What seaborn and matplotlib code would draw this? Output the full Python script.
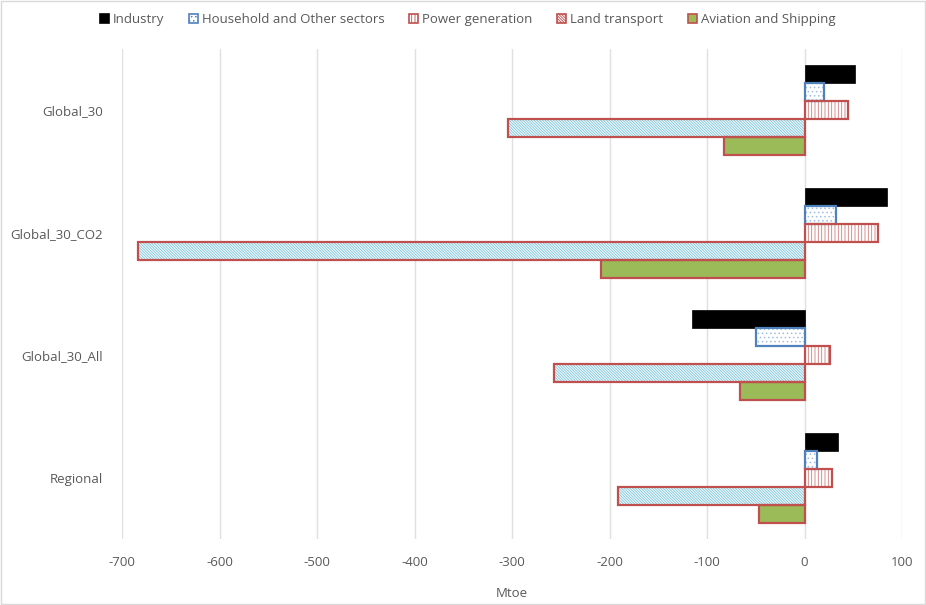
import numpy as np
import pandas as pd
import matplotlib
matplotlib.use("Agg")
import matplotlib.pyplot as plt
from matplotlib.patches import Rectangle, Patch
import seaborn as sns

# ---- data ----
scenarios = ["Global_30", "Global_30_CO2", "Global_30_All", "Regional"]
sectors = ["Industry", "Household and Other sectors", "Power generation",
           "Land transport", "Aviation and Shipping"]
industry = [52, 85, -115, 34]
household = [20, 32, -50, 13]
power = [45, 75, 26, 28]
land = [-304, -684, -257, -191]
aviation = [-83, -209, -66, -47]
x_ticks = [-700, -600, -500, -400, -300, -200, -100, 0, 100]
x_label = "Mtoe"

series = [industry, household, power, land, aviation]
rows = []
for sec, vals in zip(sectors, series):
    for sc, v in zip(scenarios, vals):
        rows.append({"Scenario": sc, "Sector": sec, "Value": v})
df = pd.DataFrame(rows)

# ---- styles ----
RED = "#C0504D"
BLUE = "#4F81BD"
styles = {
    "Industry": dict(face="black", edge="black", hatch=None, hcol=None),
    "Household and Other sectors": dict(face="white", edge=BLUE, hatch="....", hcol="#9DBDE6"),
    "Power generation": dict(face="white", edge=RED, hatch="|||||", hcol="#D27C7A"),
    "Land transport": dict(face="#F4FAFC", edge=RED, hatch="\\" * 12, hcol="#7CC6DA"),
    "Aviation and Shipping": dict(face="#9BBB59", edge=RED, hatch=None, hcol=None),
}

sns.set_theme(style="white")
plt.rcParams['font.family'] = ['Open Sans', 'DejaVu Sans']
plt.rcParams['hatch.linewidth'] = 0.6

fig = plt.figure(figsize=(9.26, 6.05), dpi=100)
ax = fig.add_axes([122 / 926, 1 - 539 / 605, 780 / 926, 490 / 605])

sns.barplot(data=df, y="Scenario", x="Value", hue="Sector", order=scenarios,
            hue_order=sectors, orient="h", width=0.735, ax=ax, legend=False,
            saturation=1, palette=["#000000"] * 5)

for sec, cont in zip(sectors, ax.containers):
    st = styles[sec]
    for p in cont:
        p.set_facecolor(st["face"])
        if st["hatch"]:
            p.set_hatch(st["hatch"])
            p.set_edgecolor(st["hcol"])
            p.set_linewidth(0)
            ax.add_patch(Rectangle(p.get_xy(), p.get_width(), p.get_height(),
                                   fill=False, edgecolor=st["edge"], lw=1.6, zorder=3))
        else:
            p.set_edgecolor(st["edge"])
            p.set_linewidth(1.6 if st["edge"] != "black" else 0.5)

ax.set_xlim(-700, 100)
ax.set_xticks(x_ticks)
ax.set_xticklabels([str(t) for t in x_ticks])
ax.xaxis.grid(True, color="#e0e0e0", lw=1)
ax.yaxis.grid(False)
ax.set_axisbelow(True)
for s in ax.spines.values():
    s.set_visible(False)
ax.tick_params(axis="both", length=0, labelsize=9.5, colors="#595959")
ax.tick_params(axis="x", pad=12)
ax.tick_params(axis="y", pad=14)
ax.set_ylabel("")
ax.set_xlabel(x_label, fontsize=9.5, color="#595959", labelpad=13)

handles = []
for sec in sectors:
    st = styles[sec]
    handles.append(Patch(facecolor=st["face"], edgecolor=st["edge"],
                         hatch=st["hatch"], lw=1.2, label=sec))
fig.legend(handles=handles, loc="center", bbox_to_anchor=(0.505, 0.967), ncol=5,
           frameon=False, fontsize=9.5, handlelength=0.65, handleheight=0.65,
           handletextpad=0.3, columnspacing=1.9, labelcolor="#595959")

fig.add_artist(Rectangle((0.001, 0.001), 0.998, 0.998, transform=fig.transFigure,
                         fill=False, edgecolor="#d9d9d9", lw=1))

fig.savefig("out.png", dpi=100)
